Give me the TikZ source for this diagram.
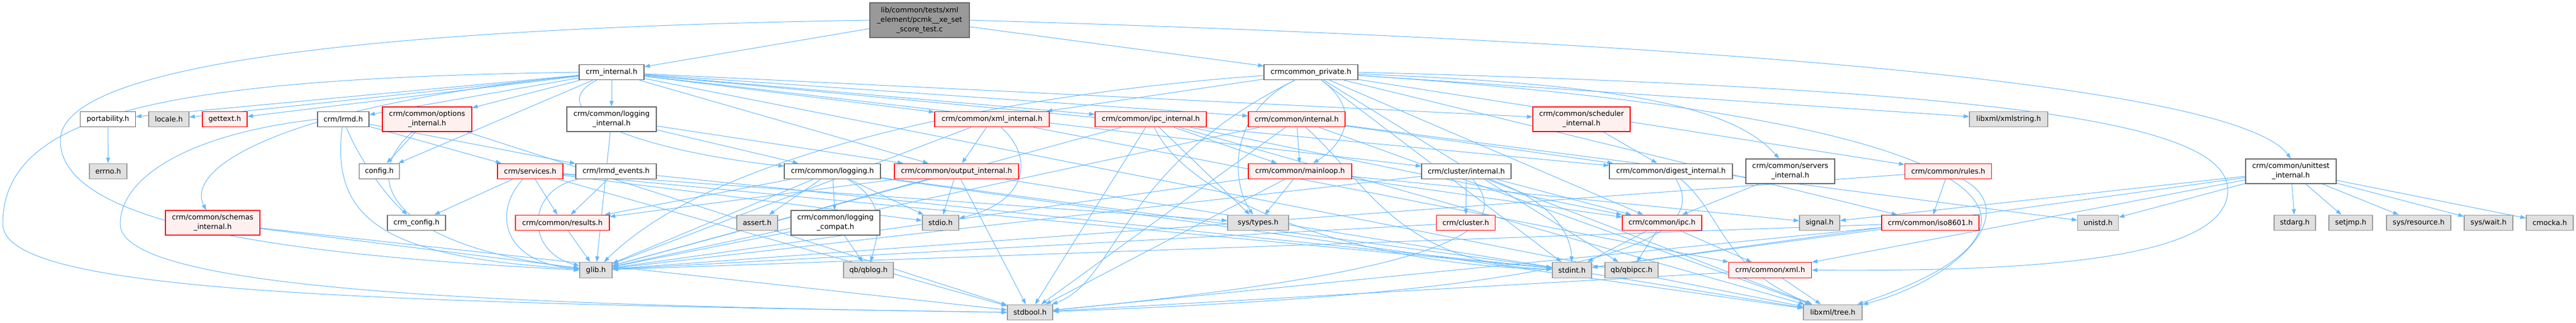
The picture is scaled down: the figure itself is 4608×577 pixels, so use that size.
\documentclass[tikz,border=0pt]{standalone}
\usepackage{fontspec}
\setmainfont{DejaVu Sans}
\usetikzlibrary{arrows.meta,backgrounds}
\definecolor{edgeblue}{HTML}{63B8FF}
\definecolor{redfill}{HTML}{FFF0F0}
\definecolor{grayfill}{HTML}{E0E0E0}
\definecolor{grayline}{HTML}{999999}
\definecolor{darkline}{HTML}{666666}
\begin{document}
\begin{tikzpicture}[x=1pt,y=-1pt,
  hdr/.style={draw,line width=1.2pt,inner sep=0pt,minimum height=27.6pt,align=center,font=\fontsize{12.8}{17}\selectfont},
  plainhdr/.style={hdr,draw=darkline,fill=white},
  redhdr/.style={hdr,draw=red,fill=redfill},
  syshdr/.style={hdr,draw=grayline,fill=grayfill},
  srchdr/.style={hdr,draw=darkline,fill=grayline},
  dep/.style={draw=edgeblue,line width=1pt,-{Triangle[length=10pt,width=7pt]}}]
\useasboundingbox (0,0) rectangle (4608,577);
\node[srchdr,minimum width=178pt,minimum height=62pt] (test) at (1645,36) {lib/common/tests/xml\\\_element/pcmk\_\_xe\_set\\\_score\_test.c};
\node[plainhdr,minimum width=116pt] (crminternal) at (1094,129) {crm\_internal.h};
\node[plainhdr,minimum width=168pt] (crmcommonprivate) at (2345,129) {crmcommon\_private.h};
\node[plainhdr,minimum width=99pt] (portability) at (193,213) {portability.h};
\node[syshdr,minimum width=72pt] (locale) at (302,213) {locale.h};
\node[redhdr,minimum width=80pt] (gettext) at (402,213) {gettext.h};
\node[plainhdr,minimum width=92pt] (lrmd) at (614,213) {crm/lrmd.h};
\node[redhdr,minimum width=160pt,minimum height=44pt] (optionsinternal) at (764,213) {crm/common/options\\\_internal.h};
\node[plainhdr,minimum width=160pt,minimum height=44pt] (logginginternal) at (1094,213) {crm/common/logging\\\_internal.h};
\node[redhdr,minimum width=205pt] (xmlinternal) at (1774.5,213) {crm/common/xml\_internal.h};
\node[redhdr,minimum width=199pt] (ipcinternal) at (2058.5,213) {crm/common/ipc\_internal.h};
\node[redhdr,minimum width=173pt] (commoninternal) at (2319.5,213) {crm/common/internal.h};
\node[redhdr,minimum width=174pt,minimum height=44pt] (schedulerinternal) at (2829,213) {crm/common/scheduler\\\_internal.h};
\node[syshdr,minimum width=140pt] (xmlstring) at (3593,213) {libxml/xmlstring.h};
\node[syshdr,minimum width=67pt] (errno) at (193.5,306) {errno.h};
\node[plainhdr,minimum width=72pt] (config) at (678.5,306) {config.h};
\node[redhdr,minimum width=117pt] (services) at (948.5,306) {crm/services.h};
\node[plainhdr,minimum width=144pt] (lrmdevents) at (1102,306) {crm/lrmd\_events.h};
\node[plainhdr,minimum width=172pt] (logging) at (1489,306) {crm/common/logging.h};
\node[redhdr,minimum width=222pt] (outputinternal) at (1711,306) {crm/common/output\_internal.h};
\node[redhdr,minimum width=185pt] (mainloop) at (2325.5,306) {crm/common/mainloop.h};
\node[plainhdr,minimum width=160pt] (clusterinternal) at (2623,306) {crm/cluster/internal.h};
\node[plainhdr,minimum width=220pt] (digestinternal) at (2989,306) {crm/common/digest\_internal.h};
\node[plainhdr,minimum width=159pt,minimum height=44pt] (serversinternal) at (3202.5,306) {crm/common/servers\\\_internal.h};
\node[redhdr,minimum width=155pt] (rules) at (3485,306) {crm/common/rules.h};
\node[plainhdr,minimum width=162pt,minimum height=44pt] (unittestinternal) at (4098,306) {crm/common/unittest\\\_internal.h};
\node[redhdr,minimum width=169pt,minimum height=44pt] (schemasinternal) at (380.5,398) {crm/common/schemas\\\_internal.h};
\node[plainhdr,minimum width=104pt] (crmconfig) at (745,398) {crm\_config.h};
\node[redhdr,minimum width=168pt] (results) at (1006,398) {crm/common/results.h};
\node[syshdr,minimum width=73pt] (assert) at (1354.5,398) {assert.h};
\node[plainhdr,minimum width=159pt,minimum height=44pt] (loggingcompat) at (1494.5,398) {crm/common/logging\\\_compat.h};
\node[syshdr,minimum width=65pt] (stdio) at (1682.5,398) {stdio.h};
\node[syshdr,minimum width=109pt] (systypes) at (2250.5,398) {sys/types.h};
\node[redhdr,minimum width=105pt] (cluster) at (2622,398) {crm/cluster.h};
\node[redhdr,minimum width=142pt] (ipc) at (2973,398) {crm/common/ipc.h};
\node[syshdr,minimum width=72pt] (signal) at (3255,398) {signal.h};
\node[redhdr,minimum width=174pt] (isodate) at (3453,398) {crm/common/iso8601.h};
\node[syshdr,minimum width=73pt] (unistd) at (3753,398) {unistd.h};
\node[syshdr,minimum width=74pt] (stdarg) at (4105,398) {stdarg.h};
\node[syshdr,minimum width=78pt] (setjmp) at (4205,398) {setjmp.h};
\node[syshdr,minimum width=115pt] (sysresource) at (4326.5,398) {sys/resource.h};
\node[syshdr,minimum width=87pt] (syswait) at (4451.5,398) {sys/wait.h};
\node[syshdr,minimum width=84pt] (cmocka) at (4561,398) {cmocka.h};
\node[syshdr,minimum width=58pt] (glib) at (1066,482.5) {glib.h};
\node[syshdr,minimum width=89pt] (qblog) at (1553.5,482.5) {qb/qblog.h};
\node[syshdr,minimum width=70pt] (stdint) at (2812,482.5) {stdint.h};
\node[syshdr,minimum width=95pt] (qbipcc) at (2918.5,482.5) {qb/qbipcc.h};
\node[redhdr,minimum width=148pt] (xml) at (3166.5,482.5) {crm/common/xml.h};
\node[syshdr,minimum width=81pt] (stdbool) at (1842.5,558) {stdbool.h};
\node[syshdr,minimum width=105pt] (libxmltree) at (3278.5,558) {libxml/tree.h};
\begin{pgfonlayer}{background}
\draw[dep] (test) -- (crminternal);
\draw[dep] (test) -- (crmcommonprivate);
\draw[dep] (test.east) .. controls (2900,70) and (3990,140) .. (unittestinternal.north);
\draw[dep] (test.west) .. controls (700,50) and (110,110) .. (108,250) .. controls (106,400) and (500,455) .. (glib.west);
\draw[dep] (crminternal) -- (portability);
\draw[dep] (crminternal) -- (locale);
\draw[dep] (crminternal) -- (gettext);
\draw[dep] (crminternal) -- (lrmd);
\draw[dep] (crminternal) -- (optionsinternal);
\draw[dep] (crminternal) -- (logginginternal);
\draw[dep] (crminternal) -- (config);
\draw[dep] (crminternal) .. controls (500,190) and (330,300) .. (schemasinternal);
\draw[dep] (crminternal) .. controls (960,200) and (1150,270) .. (logging);
\draw[dep] (crminternal) -- (outputinternal);
\draw[dep] (crminternal) -- (xmlinternal);
\draw[dep] (crminternal) -- (ipcinternal);
\draw[dep] (crminternal) -- (commoninternal);
\draw[dep] (crminternal) -- (schedulerinternal);
\draw[dep] (crminternal) -- (clusterinternal);
\draw[dep] (crminternal) -- (digestinternal);
\draw[dep] (crminternal) -- (libxmltree);
\draw[dep] (crminternal.west) .. controls (300,140) and (5,200) .. (5,400) .. controls (5,520) and (600,540) .. (stdbool.west);
\draw[dep] (crmcommonprivate) -- (xmlinternal);
\draw[dep] (crmcommonprivate) .. controls (2440,200) and (2400,260) .. (mainloop);
\draw[dep] (crmcommonprivate) .. controls (2200,200) and (2200,320) .. (systypes);
\draw[dep] (crmcommonprivate) .. controls (1900,160) and (1300,250) .. (glib);
\draw[dep] (crmcommonprivate) -- (stdint);
\draw[dep] (crmcommonprivate) .. controls (2000,300) and (2000,500) .. (stdbool);
\draw[dep] (crmcommonprivate) -- (qbipcc);
\draw[dep] (crmcommonprivate) -- (ipc);
\draw[dep] (crmcommonprivate) -- (xmlstring);
\draw[dep] (crmcommonprivate) -- (rules);
\draw[dep] (crmcommonprivate) -- (isodate);
\draw[dep] (crmcommonprivate) .. controls (2900,150) and (3100,190) .. (serversinternal);
\draw[dep] (crmcommonprivate) .. controls (3700,220) and (3700,420) .. (libxmltree);
\draw[dep] (crmcommonprivate.east) .. controls (3600,160) and (3985,220) .. (3985,340) .. controls (3985,470) and (3600,485) .. (xml.east);
\draw[dep] (portability) -- (errno);
\draw[dep] (lrmd) .. controls (640,280) and (690,350) .. (crmconfig);
\draw[dep] (lrmd) -- (services);
\draw[dep] (lrmd) -- (lrmdevents);
\draw[dep] (lrmd) .. controls (590,400) and (700,460) .. (glib);
\draw[dep] (lrmd.west) .. controls (330,240) and (215,320) .. (215,400) .. controls (215,520) and (900,545) .. (stdbool.west);
\draw[dep] (optionsinternal) -- (config);
\draw[dep] (optionsinternal) .. controls (640,320) and (700,440) .. (glib);
\draw[dep] (optionsinternal) -- (stdbool);
\draw[dep] (logginginternal) -- (glib);
\draw[dep] (logginginternal) -- (logging);
\draw[dep] (logginginternal) -- (outputinternal);
\draw[dep] (services) -- (crmconfig);
\draw[dep] (services) -- (results);
\draw[dep] (services) .. controls (880,380) and (900,470) .. (glib);
\draw[dep] (services) -- (stdio);
\draw[dep] (services) -- (systypes);
\draw[dep] (services) -- (stdint);
\draw[dep] (services) -- (stdbool);
\draw[dep] (lrmdevents) -- (results);
\draw[dep] (lrmdevents) .. controls (940,340) and (940,450) .. (glib);
\draw[dep] (lrmdevents) -- (stdint);
\draw[dep] (results) -- (glib);
\draw[dep] (logging) -- (assert);
\draw[dep] (logging) -- (loggingcompat);
\draw[dep] (logging) -- (results);
\draw[dep] (logging) -- (glib);
\draw[dep] (logging) .. controls (1590,360) and (1570,420) .. (qblog);
\draw[dep] (logging) -- (stdio);
\draw[dep] (logging) -- (stdint);
\draw[dep] (logging) -- (libxmltree);
\draw[dep] (loggingcompat) -- (glib);
\draw[dep] (loggingcompat) -- (qblog);
\draw[dep] (outputinternal) -- (stdio);
\draw[dep] (outputinternal) -- (stdbool);
\draw[dep] (outputinternal) -- (glib);
\draw[dep] (outputinternal) -- (results);
\draw[dep] (outputinternal) -- (libxmltree);
\draw[dep] (xmlinternal) -- (outputinternal);
\draw[dep] (xmlinternal) .. controls (1850,280) and (1840,360) .. (stdio);
\draw[dep] (xmlinternal) -- (xml);
\draw[dep] (xmlinternal) -- (glib);
\draw[dep] (ipcinternal) -- (stdbool);
\draw[dep] (ipcinternal) -- (systypes);
\draw[dep] (ipcinternal) .. controls (2120,350) and (2400,470) .. (stdint);
\draw[dep] (ipcinternal) -- (mainloop);
\draw[dep] (ipcinternal) -- (ipc);
\draw[dep] (ipcinternal) -- (glib);
\draw[dep] (ipcinternal) -- (libxmltree);
\draw[dep] (commoninternal) -- (mainloop);
\draw[dep] (commoninternal) -- (glib);
\draw[dep] (commoninternal) -- (stdbool);
\draw[dep] (commoninternal) .. controls (2450,330) and (2500,470) .. (stdint);
\draw[dep] (commoninternal) -- (libxmltree);
\draw[dep] (commoninternal) -- (unistd);
\draw[dep] (commoninternal) -- (digestinternal);
\draw[dep] (mainloop) -- (systypes);
\draw[dep] (mainloop) -- (glib);
\draw[dep] (mainloop) -- (stdbool);
\draw[dep] (mainloop) -- (ipc);
\draw[dep] (mainloop) -- (signal);
\draw[dep] (clusterinternal) -- (cluster);
\draw[dep] (clusterinternal) -- (glib);
\draw[dep] (clusterinternal) .. controls (2700,400) and (2650,480) .. (stdbool);
\draw[dep] (clusterinternal) .. controls (2780,360) and (2810,420) .. (stdint);
\draw[dep] (clusterinternal) -- (ipc);
\draw[dep] (clusterinternal) -- (libxmltree);
\draw[dep] (cluster) -- (glib);
\draw[dep] (schedulerinternal) -- (digestinternal);
\draw[dep] (digestinternal) .. controls (3080,380) and (3080,480) .. (libxmltree);
\draw[dep] (digestinternal) .. controls (3060,420) and (2900,520) .. (stdbool);
\draw[dep] (serversinternal) -- (ipc);
\draw[dep] (ipc) -- (stdint);
\draw[dep] (ipc) -- (qbipcc);
\draw[dep] (ipc) -- (xml);
\draw[dep] (rules) -- (isodate);
\draw[dep] (rules) -- (glib);
\draw[dep] (rules) .. controls (3620,380) and (3500,500) .. (libxmltree);
\draw[dep] (isodate) -- (stdint);
\draw[dep] (isodate) -- (stdbool);
\draw[dep] (isodate) -- (glib);
\draw[dep] (xml) -- (libxmltree);
\draw[dep] (xml) -- (stdbool);
\draw[dep] (schemasinternal) -- (glib);
\draw[dep] (schemasinternal) -- (stdbool);
\draw[dep] (unittestinternal) -- (stdarg);
\draw[dep] (unittestinternal) -- (setjmp);
\draw[dep] (unittestinternal) -- (sysresource);
\draw[dep] (unittestinternal) -- (syswait);
\draw[dep] (unittestinternal) -- (cmocka);
\draw[dep] (unittestinternal) -- (signal);
\draw[dep] (unittestinternal) -- (unistd);
\draw[dep] (unittestinternal) -- (stdint);
\draw[dep] (unittestinternal) -- (xml);
\end{pgfonlayer}
\end{tikzpicture}
\end{document}
